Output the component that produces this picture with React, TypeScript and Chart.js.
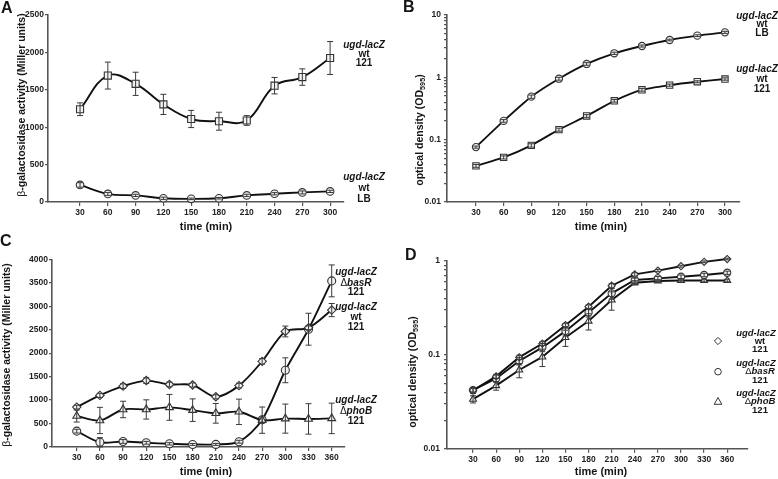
import React, { useEffect, useRef } from 'react';
import { Chart, registerables } from 'chart.js';

Chart.register(...registerables);

const FONT = '"Liberation Sans", Arial, Helvetica, sans-serif';

// ---------- DATA ----------
const timesAB = [30, 60, 90, 120, 150, 180, 210, 240, 270, 300];
const timesCD = [30, 60, 90, 120, 150, 180, 210, 240, 270, 300, 330, 360];

// Panel A: beta-galactosidase (Miller units)
const aWt121 = [1240, 1690, 1580, 1305, 1110, 1080, 1090, 1555, 1670, 1925];
const aWt121Err = [85, 180, 155, 135, 115, 120, 65, 110, 110, 220];
const aWtLB = [228, 108, 88, 50, 42, 50, 88, 110, 128, 142];
const aWtLBErr = [30, 20, 15, 15, 10, 10, 15, 15, 20, 15];

// Panel B: optical density (OD595)
const bWtLB = [0.076, 0.2, 0.49, 0.95, 1.64, 2.43, 3.18, 3.97, 4.66, 5.27];
const bWtLBErr = [0.003, 0.01, 0.03, 0.05, 0.08, 0.1, 0.12, 0.12, 0.15, 0.2];
const bWt121 = [0.038, 0.052, 0.081, 0.145, 0.24, 0.42, 0.63, 0.75, 0.85, 0.94];
const bWt121Err = [0.002, 0.003, 0.005, 0.008, 0.012, 0.02, 0.03, 0.03, 0.03, 0.04];

// Panel C: beta-galactosidase (Miller units)
const cWt = [850, 1100, 1297, 1415, 1333, 1322, 1070, 1308, 1825, 2462, 2540, 2918];
const cWtErr = [40, 45, 50, 60, 50, 45, 45, 50, 60, 115, 40, 140];
const cBasR = [338, 100, 118, 90, 68, 54, 55, 113, 580, 1635, 2510, 3540];
const cBasRErr = [40, 100, 40, 30, 25, 20, 20, 30, 60, 265, 340, 340];
const cPhoB = [660, 565, 800, 800, 845, 785, 718, 750, 572, 605, 598, 610];
const cPhoBErr = [128, 280, 175, 205, 275, 240, 210, 270, 280, 310, 325, 325];

// Panel D: optical density (OD595)
const dWt = [0.042, 0.059, 0.094, 0.132, 0.207, 0.326, 0.545, 0.72, 0.79, 0.88, 0.98, 1.05];
const dWtErr = [0.002, 0.003, 0.005, 0.006, 0.01, 0.015, 0.03, 0.03, 0.02, 0.02, 0.02, 0.02];
const dBasR = [0.042, 0.056, 0.086, 0.12, 0.179, 0.283, 0.452, 0.627, 0.653, 0.68, 0.71, 0.75];
const dBasRErr = [0.003, 0.005, 0.008, 0.012, 0.02, 0.03, 0.06, 0.03, 0.03, 0.03, 0.03, 0.03];
const dPhoB = [0.0337, 0.047, 0.069, 0.095, 0.153, 0.229, 0.384, 0.587, 0.612, 0.62, 0.62, 0.62];
const dPhoBErr = [0.003, 0.005, 0.012, 0.02, 0.03, 0.045, 0.085, 0.03, 0.02, 0.02, 0.02, 0.02];

// Tick values
const yTicksA = [0, 500, 1000, 1500, 2000, 2500];
const yTicksC = [0, 500, 1000, 1500, 2000, 2500, 3000, 3500, 4000];
const logTicksB = [0.01, 0.02, 0.03, 0.04, 0.05, 0.06, 0.07, 0.08, 0.09, 0.1, 0.2, 0.3, 0.4, 0.5, 0.6, 0.7, 0.8, 0.9, 1, 2, 3, 4, 5, 6, 7, 8, 9, 10];
const logTicksD = [0.01, 0.02, 0.03, 0.04, 0.05, 0.06, 0.07, 0.08, 0.09, 0.1, 0.2, 0.3, 0.4, 0.5, 0.6, 0.7, 0.8, 0.9, 1];
const logLabels: Record<string, string> = { '0.01': '0.01', '0.1': '0.1', '1': '1', '10': '10' };

// ---------- TEXT HELPERS ----------
type Seg = { t: string; it?: boolean; sub?: boolean; w?: string };
type Item = { x: number; y: number; segs: Seg[]; size: number; rot?: boolean; align?: 'left' | 'center'; color?: string };
type Sym = { x: number; y: number; style: string; r: number };

const fontOf = (size: number, s: Seg) =>
  `${s.it ? 'italic ' : ''}${s.w || 'bold'} ${size}px ${FONT}`;

function drawItem(ctx: CanvasRenderingContext2D, item: Item) {
  ctx.save();
  ctx.translate(item.x, item.y);
  if (item.rot) ctx.rotate(-Math.PI / 2);
  ctx.textBaseline = 'middle';
  ctx.textAlign = 'left';
  ctx.fillStyle = item.color || '#151515';
  const widths = item.segs.map((s) => {
    ctx.font = fontOf(s.sub ? item.size * 0.7 : item.size, s);
    return ctx.measureText(s.t).width;
  });
  const total = widths.reduce((a, b) => a + b, 0);
  let x = item.align === 'left' ? 0 : -total / 2;
  item.segs.forEach((s, k) => {
    ctx.font = fontOf(s.sub ? item.size * 0.7 : item.size, s);
    ctx.fillText(s.t, x, s.sub ? item.size * 0.32 : 0);
    x += widths[k];
  });
  ctx.restore();
}

function drawSym(ctx: CanvasRenderingContext2D, s: Sym) {
  ctx.save();
  ctx.strokeStyle = '#333';
  ctx.lineWidth = 1;
  ctx.beginPath();
  if (s.style === 'circle') {
    ctx.arc(s.x, s.y, s.r, 0, Math.PI * 2);
  } else if (s.style === 'rectRot') {
    ctx.moveTo(s.x, s.y - s.r);
    ctx.lineTo(s.x + s.r, s.y);
    ctx.lineTo(s.x, s.y + s.r);
    ctx.lineTo(s.x - s.r, s.y);
    ctx.closePath();
  } else {
    ctx.moveTo(s.x, s.y - s.r);
    ctx.lineTo(s.x + s.r * 0.95, s.y + s.r * 0.7);
    ctx.lineTo(s.x - s.r * 0.95, s.y + s.r * 0.7);
    ctx.closePath();
  }
  ctx.stroke();
  ctx.restore();
}

const UGD: Seg[] = [{ t: 'ugd-lacZ', it: true }];
const WT: Seg[] = [{ t: 'wt' }];
const N121: Seg[] = [{ t: '121' }];
const LB: Seg[] = [{ t: 'LB' }];
const BASR: Seg[] = [{ t: 'Δ', w: 'normal' }, { t: 'basR', it: true }];
const PHOB: Seg[] = [{ t: 'Δ', w: 'normal' }, { t: 'phoB', it: true }];

function block(x1: number, x: number, ys: number[], second: Seg[], third: Seg[], size = 10): Item[] {
  return [
    { x: x1, y: ys[0], segs: UGD, size },
    { x, y: ys[1], segs: second, size },
    { x, y: ys[2], segs: third, size },
  ];
}

const BETA_TITLE: Seg[] = [{ t: 'β', w: 'normal' }, { t: '-galactosidase activity (Miller units)' }];
const OD_TITLE: Seg[] = [{ t: 'optical density (OD' }, { t: '595', sub: true }, { t: ')' }];
const TIME: Seg[] = [{ t: 'time (min)' }];

// ---------- PANELS ----------
interface Series { label: string; values: number[]; errors: number[]; style: string; radius: number }
interface PanelSpec {
  left: number; top: number; w: number; h: number;
  area: { l: number; t: number; r: number; b: number };
  times: number[]; xMin: number; xMax: number;
  yLog: boolean; yMin: number; yMax: number; yTicks: number[]; yPad: number;
  tension: number; series: Series[]; texts: Item[]; symbols?: Sym[];
}

const panels: PanelSpec[] = [
  {
    left: 0, top: 0, w: 389, h: 240,
    area: { l: 48, t: 15, r: 344, b: 202 },
    times: timesAB, xMin: -4.6, xMax: 315,
    yLog: false, yMin: 0, yMax: 2500, yTicks: yTicksA, yPad: 1,
    tension: 0.4,
    series: [
      { label: 'ugd-lacZ wt 121', values: aWt121, errors: aWt121Err, style: 'rect', radius: 5 },
      { label: 'ugd-lacZ wt LB', values: aWtLB, errors: aWtLBErr, style: 'circle', radius: 3.8 },
    ],
    texts: [
      { x: 1, y: 9, size: 16, align: 'left', segs: [{ t: 'A' }] },
      { x: 22, y: 105, size: 10.5, rot: true, segs: BETA_TITLE },
      { x: 206, y: 227, size: 11, segs: TIME },
      ...block(364, 364, [45, 54, 63], WT, N121),
      ...block(364, 364, [177, 188, 199], WT, LB),
    ],
  },
  {
    left: 389, top: 0, w: 389, h: 240,
    area: { l: 58, t: 15, r: 351, b: 202 },
    times: timesAB, xMin: -1.4, xMax: 316.3,
    yLog: true, yMin: 0.01, yMax: 10, yTicks: logTicksB, yPad: 3,
    tension: 0.2,
    series: [
      { label: 'ugd-lacZ wt LB', values: bWtLB, errors: bWtLBErr, style: 'circle', radius: 3.6 },
      { label: 'ugd-lacZ wt 121', values: bWt121, errors: bWt121Err, style: 'rect', radius: 4.5 },
    ],
    texts: [
      { x: 14, y: 8, size: 16, align: 'left', segs: [{ t: 'B' }] },
      { x: 31, y: 130, size: 10.5, rot: true, segs: OD_TITLE },
      { x: 212, y: 227, size: 11, segs: TIME },
      ...block(368, 373, [16, 24.5, 33], WT, LB),
      ...block(368, 373, [69, 79, 89], WT, N121),
    ],
  },
  {
    left: 0, top: 228, w: 389, h: 251,
    area: { l: 52, t: 31.3, r: 345, b: 219 },
    times: timesCD, xMin: -2, xMax: 377.2,
    yLog: false, yMin: 0, yMax: 4000, yTicks: yTicksC, yPad: 1,
    tension: 0.3,
    series: [
      { label: 'ugd-lacZ wt 121', values: cWt, errors: cWtErr, style: 'rectRot', radius: 4.2 },
      { label: 'ugd-lacZ ΔphoB 121', values: cPhoB, errors: cPhoBErr, style: 'triangle', radius: 4.5 },
      { label: 'ugd-lacZ ΔbasR 121', values: cBasR, errors: cBasRErr, style: 'circle', radius: 4 },
    ],
    texts: [
      { x: 0, y: 14, size: 16, align: 'left', segs: [{ t: 'C' }] },
      { x: 7, y: 127, size: 10.5, rot: true, segs: BETA_TITLE },
      { x: 206, y: 244, size: 11, segs: TIME },
      ...block(356, 356, [44.5, 55, 64.5], BASR, N121),
      ...block(356, 356, [79, 89, 99], WT, N121),
      ...block(356, 356, [172, 183, 193], PHOB, N121),
    ],
  },
  {
    left: 389, top: 228, w: 389, h: 251,
    area: { l: 58, t: 33, r: 359, b: 220.7 },
    times: timesCD, xMin: -3.8, xMax: 387,
    yLog: true, yMin: 0.01, yMax: 1, yTicks: logTicksD, yPad: 4,
    tension: 0,
    series: [
      { label: 'ugd-lacZ wt 121', values: dWt, errors: dWtErr, style: 'rectRot', radius: 3.6 },
      { label: 'ugd-lacZ ΔbasR 121', values: dBasR, errors: dBasRErr, style: 'circle', radius: 3.6 },
      { label: 'ugd-lacZ ΔphoB 121', values: dPhoB, errors: dPhoBErr, style: 'triangle', radius: 4 },
    ],
    texts: [
      { x: 16, y: 28, size: 16, align: 'left', segs: [{ t: 'D' }] },
      { x: 24, y: 144, size: 10.5, rot: true, segs: OD_TITLE },
      { x: 212, y: 244, size: 11, segs: TIME },
      ...block(367, 371, [105.5, 113, 121], WT, N121, 9.5),
      ...block(367, 371, [135, 143.7, 152], BASR, N121, 9.5),
      ...block(367, 371, [165, 173.7, 182], PHOB, N121, 9.5),
    ],
    symbols: [
      { x: 329, y: 113, style: 'rectRot', r: 3.6 },
      { x: 329, y: 143.7, style: 'circle', r: 3.3 },
      { x: 329, y: 173.5, style: 'triangle', r: 4 },
    ],
  },
];

// ---------- PLUGINS ----------
const errorBarPlugin = {
  id: 'errorBars',
  afterDatasetsDraw(chart: any) {
    const ctx = chart.ctx as CanvasRenderingContext2D;
    const y = chart.scales.y;
    chart.data.datasets.forEach((ds: any, i: number) => {
      const errs: number[] = ds.errors;
      if (!errs) return;
      const meta = chart.getDatasetMeta(i);
      ctx.save();
      ctx.strokeStyle = '#3a3a3a';
      ctx.lineWidth = 1;
      meta.data.forEach((pt: any, j: number) => {
        const v = ds.data[j].y;
        const e = errs[j];
        if (!e) return;
        const yt = y.getPixelForValue(v + e);
        const yb = y.getPixelForValue(Math.max(v - e, y.min));
        const x = pt.x;
        ctx.beginPath();
        ctx.moveTo(x, yt);
        ctx.lineTo(x, yb);
        ctx.moveTo(x - 3, yt);
        ctx.lineTo(x + 3, yt);
        ctx.moveTo(x - 3, yb);
        ctx.lineTo(x + 3, yb);
        ctx.stroke();
      });
      ctx.restore();
    });
  },
};

function textPlugin(items: Item[], symbols: Sym[] = []) {
  return {
    id: 'panelText',
    afterDraw(chart: any) {
      const ctx = chart.ctx as CanvasRenderingContext2D;
      items.forEach((it) => drawItem(ctx, it));
      symbols.forEach((s) => drawSym(ctx, s));
    },
  };
}

function PanelChart({ p }: { p: PanelSpec }) {
  const ref = useRef<HTMLCanvasElement | null>(null);
  useEffect(() => {
    if (!ref.current) return;
    const axisColor = '#555';
    const tickFont = { size: 8.5, weight: 'bold' as const, family: FONT };
    const chart = new Chart(ref.current, {
      type: 'line',
      data: {
        datasets: p.series.map((s) => ({
          label: s.label,
          data: p.times.map((t, k) => ({ x: t, y: s.values[k] })),
          errors: s.errors,
          borderColor: '#111',
          borderWidth: 1.9,
          tension: p.tension,
          pointStyle: s.style,
          pointRadius: s.radius,
          pointBackgroundColor: '#f2f2f2',
          pointBorderColor: '#333',
          pointBorderWidth: 1.1,
          fill: false,
          clip: false,
        })) as any,
      },
      options: {
        animation: false,
        responsive: false,
        maintainAspectRatio: false,
        devicePixelRatio: 1,
        layout: { padding: { top: p.area.t, right: p.w - p.area.r, left: 0, bottom: 0 } },
        plugins: { legend: { display: false }, tooltip: { enabled: false }, title: { display: false } },
        scales: {
          x: {
            type: 'linear',
            min: p.xMin,
            max: p.xMax,
            afterBuildTicks: (s: any) => {
              s.ticks = p.times.map((v) => ({ value: v }));
            },
            afterFit: (s: any) => {
              s.height = p.h - p.area.b;
            },
            grid: { drawOnChartArea: false, drawTicks: true, tickLength: 4, color: axisColor, lineWidth: 1.2 },
            border: { color: axisColor, width: 1.6 },
            ticks: { font: tickFont, color: '#222', padding: 2, maxRotation: 0, autoSkip: false },
          },
          y: {
            type: p.yLog ? 'logarithmic' : 'linear',
            min: p.yMin,
            max: p.yMax,
            afterBuildTicks: (s: any) => {
              s.ticks = p.yTicks.map((v) => ({ value: v }));
            },
            afterFit: (s: any) => {
              s.width = p.area.l;
            },
            grid: { drawOnChartArea: false, drawTicks: true, tickLength: 3, color: axisColor, lineWidth: 1.2 },
            border: { color: axisColor, width: 1.6 },
            ticks: {
              font: tickFont,
              color: '#222',
              padding: p.yPad,
              autoSkip: false,
              callback: (v: any) => (p.yLog ? logLabels[String(v)] ?? '' : String(v)),
            },
          },
        },
      } as any,
      plugins: [errorBarPlugin, textPlugin(p.texts, p.symbols)],
    });
    return () => chart.destroy();
  }, [p]);
  return (
    <canvas
      ref={ref}
      width={p.w}
      height={p.h}
      style={{ position: 'absolute', left: p.left, top: p.top, width: p.w, height: p.h }}
    />
  );
}

export default function App() {
  return (
    <div style={{ position: 'absolute', left: 0, top: 0, width: 778, height: 479, background: '#fff', overflow: 'hidden' }}>
      {panels.map((p, i) => (
        <PanelChart key={i} p={p} />
      ))}
    </div>
  );
}
